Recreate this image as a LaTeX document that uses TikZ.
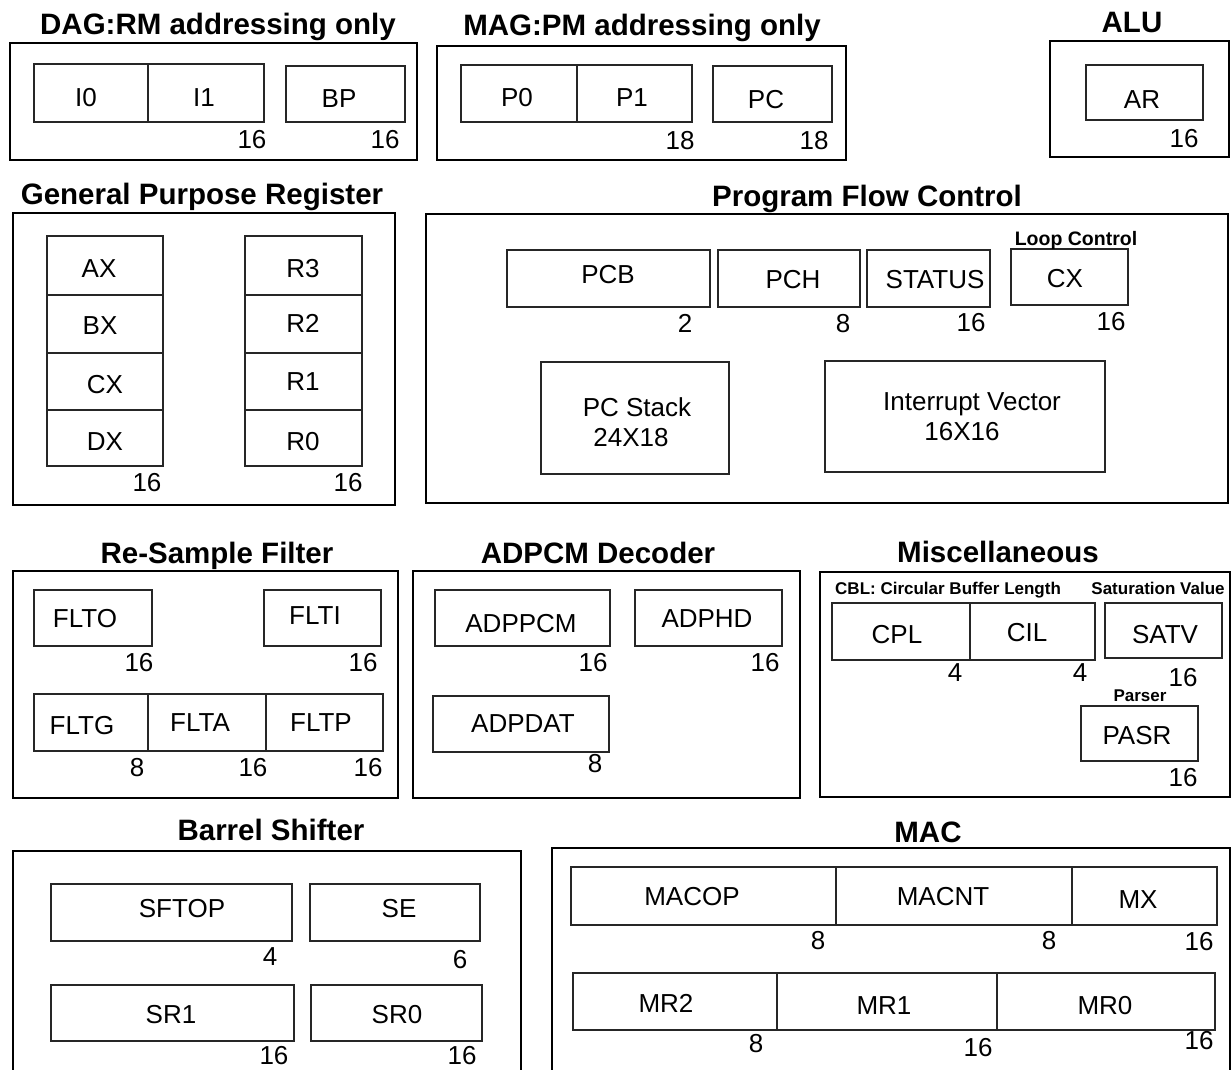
\documentclass[tikz,border=0pt]{standalone}
\usepackage{fontspec}
\setmainfont{Liberation Sans}
\begin{document}
\begin{tikzpicture}[x=1pt,y=-1pt,
  cell/.style={draw=black!85,line width=1.3pt,inner sep=0pt,outer sep=0pt,anchor=north west},
  group/.style={draw=black,line width=2.6pt,inner sep=0pt,outer sep=0pt,anchor=north west},
  txt/.style={inner sep=0pt,text depth=0pt},
  ttl/.style={txt,text height=21.2pt,font=\fontsize{29.5}{30}\selectfont\bfseries},
  rtx/.style={txt,text height=18.7pt,font=\fontsize{26}{26}\selectfont},
  num/.style={txt,text height=18.7pt,font=\fontsize{26}{26}\selectfont},
  note/.style={txt,text height=12.2pt,font=\fontsize{17}{17}\selectfont\bfseries},
  loopnote/.style={txt,text height=14pt,font=\fontsize{19.5}{20}\selectfont\bfseries},
]
\newcommand\cell[6][cell]{%
  \pgfmathsetmacro\cw{#5-#3}\pgfmathsetmacro\ch{#6-#4}%
  \node[#1,minimum width=\cw pt,minimum height=\ch pt] (#2) at (#3,#4) {};}
\useasboundingbox[fill=white] (0,0) rectangle (1231,1069);

% ---------------- DAG ----------------
\node[ttl] (tDAG) at (218,24) {DAG:RM addressing only};
\cell[group]{gDAG}{10}{43}{417}{160}
\cell{cI0}{34}{64}{148}{122}
\cell{cI1}{148}{64}{264}{122}
\cell{cBP}{286}{66}{405}{122}
\node[rtx] (lI0) at (86,97) {I0};
\node[rtx] (lI1) at (204,97) {I1};
\node[rtx] (lBP) at (339,98) {BP};
\node[num] (nI1) at (252,139) {16};
\node[num] (nBP) at (385,139) {16};

% ---------------- MAG ----------------
\node[ttl] (tMAG) at (642,25) {MAG:PM addressing only};
\cell[group]{gMAG}{437}{46}{846}{160}
\cell{cP0}{461}{65}{577}{122}
\cell{cP1}{577}{65}{692}{122}
\cell{cPC}{713}{66}{832}{122}
\node[rtx] (lP0) at (517,97) {P0};
\node[rtx] (lP1) at (632,97) {P1};
\node[rtx] (lPC) at (766,99) {PC};
\node[num] (nP1) at (680,140) {18};
\node[num] (nPC) at (814,140) {18};

% ---------------- ALU ----------------
\node[ttl] (tALU) at (1132,22) {ALU};
\cell[group]{gALU}{1050}{41}{1229}{157}
\cell{cAR}{1086}{65}{1203}{120}
\node[rtx] (lAR) at (1142,99) {AR};
\node[num] (nAR) at (1184,138) {16};

% ---------------- GPR ----------------
\node[ttl] (tGPR) at (202,194) {General Purpose Register};
\cell[group]{gGPR}{13}{213}{395}{505}
\cell{cAX}{47}{236}{163}{295}
\cell{cBX}{47}{295}{163}{353}
\cell{cCX}{47}{353}{163}{410}
\cell{cDX}{47}{410}{163}{466}
\cell{cR3}{245}{236}{362}{295}
\cell{cR2}{245}{295}{362}{353}
\cell{cR1}{245}{353}{362}{410}
\cell{cR0}{245}{410}{362}{466}
\node[rtx] (lAX) at (99,268) {AX};
\node[rtx] (lBX) at (100,325) {BX};
\node[rtx] (lCX) at (105,384) {CX};
\node[rtx] (lDX) at (105,441) {DX};
\node[rtx] (lR3) at (303,268) {R3};
\node[rtx] (lR2) at (303,323) {R2};
\node[rtx] (lR1) at (303,381) {R1};
\node[rtx] (lR0) at (303,441) {R0};
\node[num] (nDX) at (147,482) {16};
\node[num] (nR0) at (348,482) {16};

% ---------------- Program Flow Control ----------------
\node[ttl] (tPFC) at (867,196) {Program Flow Control};
\cell[group]{gPFC}{426}{214}{1228}{503}
\cell{cPCB}{507}{250}{710}{307}
\cell{cPCH}{718}{250}{860}{307}
\cell{cST}{867}{250}{990}{307}
\cell{cLCX}{1011}{249}{1128}{305}
\node[loopnote] (lLoop) at (1076,238) {Loop Control};
\node[rtx] (lPCB) at (608,274) {PCB};
\node[rtx] (lPCH) at (793,279) {PCH};
\node[rtx] (lST) at (935,279) {STATUS};
\node[rtx] (lLCX) at (1065,278) {CX};
\node[num] (nPCB) at (685,323) {2};
\node[num] (nPCH) at (843,323) {8};
\node[num] (nST) at (971,322) {16};
\node[num] (nLCX) at (1111,321) {16};
\cell{cStk}{541}{362}{729}{474}
\cell{cIV}{825}{361}{1105}{472}
\node[rtx] (lStk) at (637,407) {PC Stack};
\node[rtx] (lStk2) at (631,437) {24X18};
\node[rtx] (lIV) at (972,401) {Interrupt Vector};
\node[rtx] (lIV2) at (962,431) {16X16};

% ---------------- Re-Sample Filter ----------------
\node[ttl] (tRSF) at (217,553) {Re-Sample Filter};
\cell[group]{gRSF}{13}{571}{398}{798}
\cell{cFLTO}{34}{590}{152}{646}
\cell{cFLTI}{264}{590}{381}{646}
\cell{cFLTG}{34}{694}{148}{751}
\cell{cFLTA}{148}{694}{266}{751}
\cell{cFLTP}{266}{694}{383}{751}
\node[rtx] (lFLTO) at (85,618) {FLTO};
\node[rtx] (lFLTI) at (315,615) {FLTI};
\node[rtx] (lFLTG) at (82,725) {FLTG};
\node[rtx] (lFLTA) at (200,722) {FLTA};
\node[rtx] (lFLTP) at (321,722) {FLTP};
\node[num] (nFLTO) at (139,662) {16};
\node[num] (nFLTI) at (363,662) {16};
\node[num] (nFLTG) at (137,767) {8};
\node[num] (nFLTA) at (253,767) {16};
\node[num] (nFLTP) at (368,767) {16};

% ---------------- ADPCM Decoder ----------------
\node[ttl] (tADP) at (598,553) {ADPCM Decoder};
\cell[group]{gADP}{413}{571}{800}{798}
\cell{cADPPCM}{435}{590}{610}{646}
\cell{cADPHD}{635}{590}{782}{646}
\cell{cADPDAT}{433}{696}{609}{752}
\node[rtx] (lADPPCM) at (521,623) {ADPPCM};
\node[rtx] (lADPHD) at (707,618) {ADPHD};
\node[rtx] (lADPDAT) at (523,723) {ADPDAT};
\node[num] (nADPPCM) at (593,662) {16};
\node[num] (nADPHD) at (765,662) {16};
\node[num] (nADPDAT) at (595,763) {8};

% ---------------- Miscellaneous ----------------
\node[ttl] (tMisc) at (998,552) {Miscellaneous};
\cell[group]{gMisc}{820}{572}{1230}{797}
\node[note,anchor=west] (lCBL) at (835,588) {CBL: Circular Buffer Length};
\node[note] (lSat) at (1158,588) {Saturation Value};
\cell{cCPL}{832}{603}{970}{660}
\cell{cCIL}{970}{603}{1095}{660}
\cell{cSATV}{1105}{603}{1222}{658}
\node[rtx] (lCPL) at (897,634) {CPL};
\node[rtx] (lCIL) at (1027,632) {CIL};
\node[rtx] (lSATV) at (1165,634) {SATV};
\node[num] (nCPL) at (955,672) {4};
\node[num] (nCIL) at (1080,672) {4};
\node[num] (nSATV) at (1183,677) {16};
\node[note] (lPar) at (1140,695) {Parser};
\cell{cPASR}{1081}{706}{1198}{761}
\node[rtx] (lPASR) at (1137,735) {PASR};
\node[num] (nPASR) at (1183,777) {16};

% ---------------- Barrel Shifter ----------------
\node[ttl] (tBS) at (271,830) {Barrel Shifter};
\cell[group]{gBS}{13}{851}{521}{1090}
\cell{cSFTOP}{51}{884}{292}{941}
\cell{cSE}{310}{884}{480}{941}
\cell{cSR1}{51}{985}{294}{1041}
\cell{cSR0}{311}{985}{482}{1041}
\node[rtx] (lSFTOP) at (182,908) {SFTOP};
\node[rtx] (lSE) at (399,908) {SE};
\node[rtx] (lSR1) at (171,1014) {SR1};
\node[rtx] (lSR0) at (397,1014) {SR0};
\node[num] (nSFTOP) at (270,956) {4};
\node[num] (nSE) at (460,959) {6};
\node[num] (nSR1) at (274,1055) {16};
\node[num] (nSR0) at (462,1055) {16};

% ---------------- MAC ----------------
\node[ttl] (tMAC) at (928,832) {MAC};
\cell[group]{gMAC}{552}{848}{1230}{1090}
\cell{cMACOP}{571}{867}{836}{925}
\cell{cMACNT}{836}{867}{1072}{925}
\cell{cMX}{1072}{867}{1217}{925}
\cell{cMR2}{573}{973}{777}{1030}
\cell{cMR1}{777}{973}{997}{1030}
\cell{cMR0}{997}{973}{1215}{1030}
\node[rtx] (lMACOP) at (692,896) {MACOP};
\node[rtx] (lMACNT) at (943,896) {MACNT};
\node[rtx] (lMX) at (1138,899) {MX};
\node[rtx] (lMR2) at (666,1003) {MR2};
\node[rtx] (lMR1) at (884,1005) {MR1};
\node[rtx] (lMR0) at (1105,1005) {MR0};
\node[num] (nMACOP) at (818,940) {8};
\node[num] (nMACNT) at (1049,940) {8};
\node[num] (nMX) at (1199,941) {16};
\node[num] (nMR2) at (756,1043) {8};
\node[num] (nMR1) at (978,1047) {16};
\node[num] (nMR0) at (1199,1040) {16};
\end{tikzpicture}
\end{document}
